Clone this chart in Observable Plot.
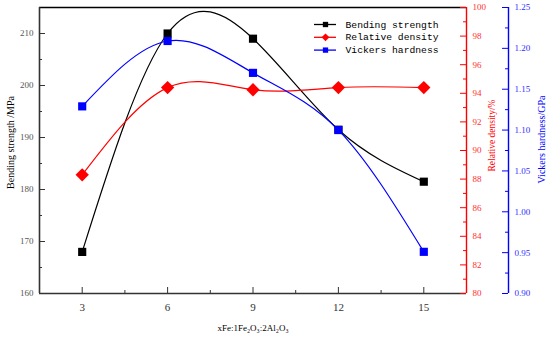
<!DOCTYPE html>
<html>
<head>
<meta charset="utf-8">
<script src="https://cdn.jsdelivr.net/npm/d3@7"></script>
<script src="https://cdn.jsdelivr.net/npm/@observablehq/plot@0.6"></script>
<style>
  html, body { margin: 0; padding: 0; background: #fff; }
</style>
</head>
<body>
<div id="chart"></div>
<script>
// ---- data ----
const ratios = [3, 6, 9, 12, 15];
const bendingStrength = [168, 210, 209, 191.5, 181.5];
const relativeDensity = [88.3, 94.4, 94.25, 94.4, 94.4];
const vickersHardness = [1.129, 1.209, 1.170, 1.100, 0.951];
const xTicks = [3, 6, 9, 12, 15];
const leftTicks = [160, 170, 180, 190, 200, 210];
const redTicks = [80, 82, 84, 86, 88, 90, 92, 94, 96, 98, 100];
const blueTicks = [0.90, 0.95, 1.00, 1.05, 1.10, 1.15, 1.20, 1.25];
const seriesNames = ["Bending strength", "Relative density", "Vickers hardness"];
const seriesColors = ["#000000", "#ff0000", "#0000ff"];

// ---- layout ----
const W = 550, H = 337;
const mL = 39, mR = 84, mT = 7, mB = 44;
const xDom = [1.5, 16.5];
const yDom = [160, 215];
const redDom = [80, 100];
const blueDom = [0.90, 1.25];
const pxPerX = (W - mL - mR) / (xDom[1] - xDom[0]);
const pxPerY = (H - mT - mB) / (yDom[1] - yDom[0]);
const toLeftFrom = dom => v => yDom[0] + (v - dom[0]) / (dom[1] - dom[0]) * (yDom[1] - yDom[0]);
const fromRed = toLeftFrom(redDom);
const fromBlue = toLeftFrom(blueDom);
const pxX = px => px / pxPerX;
const pxY = px => px / pxPerY;
const yAtPx = py => yDom[1] - pxY(py - mT); // y value at a pixel row
const xRed = xDom[1];
const xBlue = xDom[1] + pxX(42);

const rows = ratios.map((r, i) => [
  {x: r, y: bendingStrength[i], s: 0},
  {x: r, y: fromRed(relativeDensity[i]), s: 1},
  {x: r, y: fromBlue(vickersHardness[i]), s: 2}
]).flat();
const bySeries = s => rows.filter(d => d.s === s);

const minor = (ticks, step) => ticks.slice(0, -1).map(t => t + step / 2);
const leftMinor = minor(leftTicks, 10);
const xMinor = minor(xTicks, 3);
const redMinor = minor(redTicks, 2);
const blueMinor = minor(blueTicks, 0.05);

const majorLen = 6, minorLen = 3;

const marks = [];
// curves
[0, 1, 2].forEach(s => {
  marks.push(Plot.line(bySeries(s), {x: "x", y: "y", stroke: seriesColors[s], strokeWidth: 1.2, curve: "natural"}));
});
// markers
marks.push(Plot.dot(bySeries(0), {x: "x", y: "y", symbol: "square", r: 4.6, fill: seriesColors[0]}));
marks.push(Plot.dot(bySeries(1), {x: "x", y: "y", symbol: "diamond2", r: 6, fill: seriesColors[1]}));
marks.push(Plot.dot(bySeries(2), {x: "x", y: "y", symbol: "square", r: 4.6, fill: seriesColors[2]}));

// frame: top, left, bottom
marks.push(Plot.ruleY([yDom[1]], {x1: xDom[0], x2: xDom[1], stroke: "#000", strokeWidth: 1.3}));
marks.push(Plot.ruleX([xDom[0]], {y1: yDom[0], y2: yDom[1], stroke: "#333", strokeWidth: 1.6}));
marks.push(Plot.ruleY([yDom[0]], {x1: xDom[0], x2: xDom[1], stroke: "#333", strokeWidth: 1.6}));
// left ticks inward
marks.push(Plot.ruleY(leftTicks, {x1: xDom[0], x2: xDom[0] + pxX(majorLen), stroke: "#333", strokeWidth: 1}));
marks.push(Plot.ruleY(leftMinor, {x1: xDom[0], x2: xDom[0] + pxX(minorLen), stroke: "#333", strokeWidth: 1}));
marks.push(Plot.text(leftTicks, {x: xDom[0], y: d => d, text: d => String(d), dx: -6, textAnchor: "end", fill: "#555", fontSize: 9}));
// bottom ticks inward
marks.push(Plot.ruleX(xTicks, {y1: yDom[0], y2: yDom[0] + pxY(majorLen), stroke: "#333", strokeWidth: 1}));
marks.push(Plot.ruleX(xMinor, {y1: yDom[0], y2: yDom[0] + pxY(minorLen), stroke: "#333", strokeWidth: 1}));
marks.push(Plot.text(xTicks, {x: d => d, y: yDom[0], text: d => String(d), dy: 14, fill: "#333", fontSize: 11}));
// red axis
marks.push(Plot.ruleX([xRed], {y1: yDom[0], y2: yDom[1], stroke: "#ff0000", strokeWidth: 1.4}));
marks.push(Plot.ruleY(redTicks.map(fromRed), {x1: xRed - pxX(majorLen), x2: xRed, stroke: "#ff0000", strokeWidth: 1}));
marks.push(Plot.ruleY(redMinor.map(fromRed), {x1: xRed - pxX(minorLen), x2: xRed, stroke: "#ff0000", strokeWidth: 1}));
marks.push(Plot.text(redTicks, {x: xRed, y: d => fromRed(d), text: d => String(d), dx: 6, textAnchor: "start", fill: "#ff3030", fontSize: 9}));
// blue axis
marks.push(Plot.ruleX([xBlue], {y1: yDom[0], y2: yDom[1], stroke: "#0000ff", strokeWidth: 1.4}));
marks.push(Plot.ruleY(blueTicks.map(fromBlue), {x1: xBlue - pxX(majorLen), x2: xBlue, stroke: "#0000ff", strokeWidth: 1}));
marks.push(Plot.ruleY(blueMinor.map(fromBlue), {x1: xBlue - pxX(minorLen), x2: xBlue, stroke: "#0000ff", strokeWidth: 1}));
marks.push(Plot.text(blueTicks, {x: xBlue, y: d => fromBlue(d), text: d => d.toFixed(2), dx: 6, textAnchor: "start", fill: "#3030ff", fontSize: 9}));

// axis titles
marks.push(Plot.text(["Bending strength /MPa"], {x: xDom[0], y: yAtPx(142), dx: -29, rotate: -90, textAnchor: "middle", fill: "#000", fontSize: 10}));
marks.push(Plot.text(["Relative density/%"], {x: xRed, y: yAtPx(135), dx: 25, rotate: -90, textAnchor: "middle", fill: "#ff0000", fontSize: 9.5}));
marks.push(Plot.text(["Vickers hardness/GPa"], {x: xBlue, y: yAtPx(139), dx: 33, rotate: -90, textAnchor: "middle", fill: "#0000ff", fontSize: 10}));
marks.push(Plot.text(["xFe:1Fe\u2082O\u2083:2Al\u2082O\u2083"], {x: 9, y: yDom[0], dy: 35, textAnchor: "middle", fill: "#000", fontSize: 9}));

// legend (positions relative to frame)
const legendRows = seriesNames.map((n, i) => ({name: n, i}));
const legX0 = xDom[1] - pxX(466 - 314), legX1 = xDom[1] - pxX(466 - 336);
const legY = i => yAtPx(24 + i * 12.8);
marks.push(Plot.ruleY(legendRows, {y: d => legY(d.i), x1: legX0, x2: legX1, stroke: d => seriesColors[d.i], strokeWidth: 1.3}));
marks.push(Plot.dot(legendRows, {x: (legX0 + legX1) / 2, y: d => legY(d.i), symbol: d => d.i === 1 ? "diamond2" : "square", r: d => d.i === 1 ? 4.5 : 3.3, fill: d => seriesColors[d.i]}));
marks.push(Plot.text(legendRows, {x: legX1, y: d => legY(d.i), text: "name", dx: 9, textAnchor: "start", fill: "#000", fontSize: 9.7, fontFamily: "Liberation Mono"}));

const chart = Plot.plot({
  width: W, height: H,
  marginLeft: mL, marginRight: mR, marginTop: mT, marginBottom: mB,
  x: {domain: xDom, axis: null},
  y: {domain: yDom, axis: null},
  symbol: {type: "identity"},
  stroke: {type: "identity"},
  fill: {type: "identity"},
  style: {fontFamily: "Liberation Serif", background: "#fff"},
  marks
});
document.getElementById("chart").appendChild(chart);
</script>
</body>
</html>
